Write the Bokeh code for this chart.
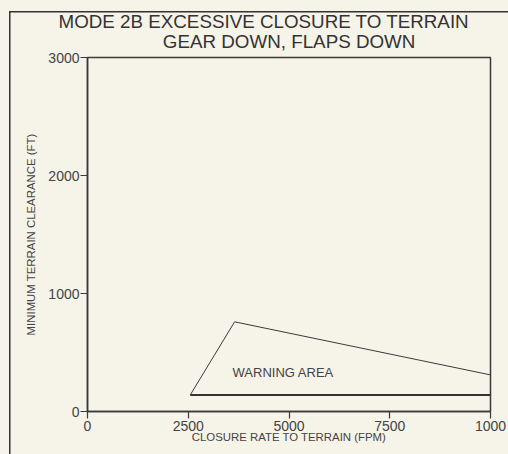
from bokeh.plotting import figure
from bokeh.models import Range1d, FixedTicker, Title, Label
from bokeh.embed import file_html
from bokeh.resources import INLINE

# Data
warn_x = [2550, 3650, 10000]
warn_y = [140, 760, 310]
base_x = [2550, 10000]
base_y = [140, 140]
x_ticks = [0, 2500, 5000, 7500, 10000]
x_tick_labels = ["0", "2500", "5000", "7500", "1000"]
y_ticks = [0, 1000, 2000, 3000]
title_1 = "MODE 2B EXCESSIVE CLOSURE TO TERRAIN"
title_2 = "GEAR DOWN, FLAPS DOWN"
x_label = "CLOSURE RATE TO TERRAIN (FPM)"
y_label = "MINIMUM TERRAIN CLEARANCE (FT)"
area_label = "WARNING AREA"

INK = "#3a3a3a"
PAPER = "#f6f3e8"
FONT = "Liberation Sans"

p = figure(width=508, height=454, output_backend="svg", toolbar_location=None,
           x_range=Range1d(0, 10000), y_range=Range1d(0, 3000),
           min_border_left=87, min_border_right=18, min_border_top=57, min_border_bottom=43)
p.background_fill_color = PAPER
p.border_fill_alpha = 0
p.styles = {
    "background": ("linear-gradient(#333,#333) 9px 11px / 1.5px 100% no-repeat, "
                   "linear-gradient(#333,#333) 9px 11px / 100% 1.5px no-repeat, " + PAPER),
}
p.outline_line_color = INK
p.outline_line_width = 1.5
p.xgrid.visible = False
p.ygrid.visible = False

for ax in (p.xaxis[0], p.yaxis[0]):
    ax.axis_line_color = INK
    ax.axis_line_width = 1.5
    ax.major_tick_line_color = INK
    ax.major_tick_line_width = 1.2
    ax.major_tick_in = 0
    ax.major_tick_out = 7
    ax.minor_tick_line_color = None
    ax.major_label_text_font = FONT
    ax.major_label_text_font_size = "14px"
    ax.major_label_text_color = "#444444"
    ax.axis_label_text_font = FONT
    ax.axis_label_text_font_size = "11.4px"
    ax.axis_label_text_font_style = "normal"
    ax.axis_label_text_color = "#444444"

p.xaxis.ticker = FixedTicker(ticks=x_ticks)
p.xaxis.major_label_overrides = {t: l for t, l in zip(x_ticks, x_tick_labels)}
p.yaxis.ticker = FixedTicker(ticks=y_ticks)
p.xaxis.major_label_standoff = 2
p.yaxis.major_label_standoff = 1
p.xaxis.axis_label = x_label
p.yaxis.axis_label = y_label
p.xaxis.axis_label_standoff = -3
p.yaxis.axis_label_standoff = 8

# Warning area outline
p.line(warn_x, warn_y, line_color=INK, line_width=1)
p.line(base_x, base_y, line_color="#333333", line_width=2.2)

p.add_layout(Label(x=3600, y=270, text=area_label, text_font=FONT,
                   text_font_size="13px", text_color="#444444"))

title_text = title_1 + "\n" + "\u00a0" * 20 + title_2
t = Title(text=title_text, align="left", offset=-29, text_font=FONT, text_font_size="18.8px",
          text_font_style="normal", text_color="#333333", standoff=10, text_line_height=0.96)
p.add_layout(t, "above")

open("out.html", "w").write(file_html(p, INLINE))
